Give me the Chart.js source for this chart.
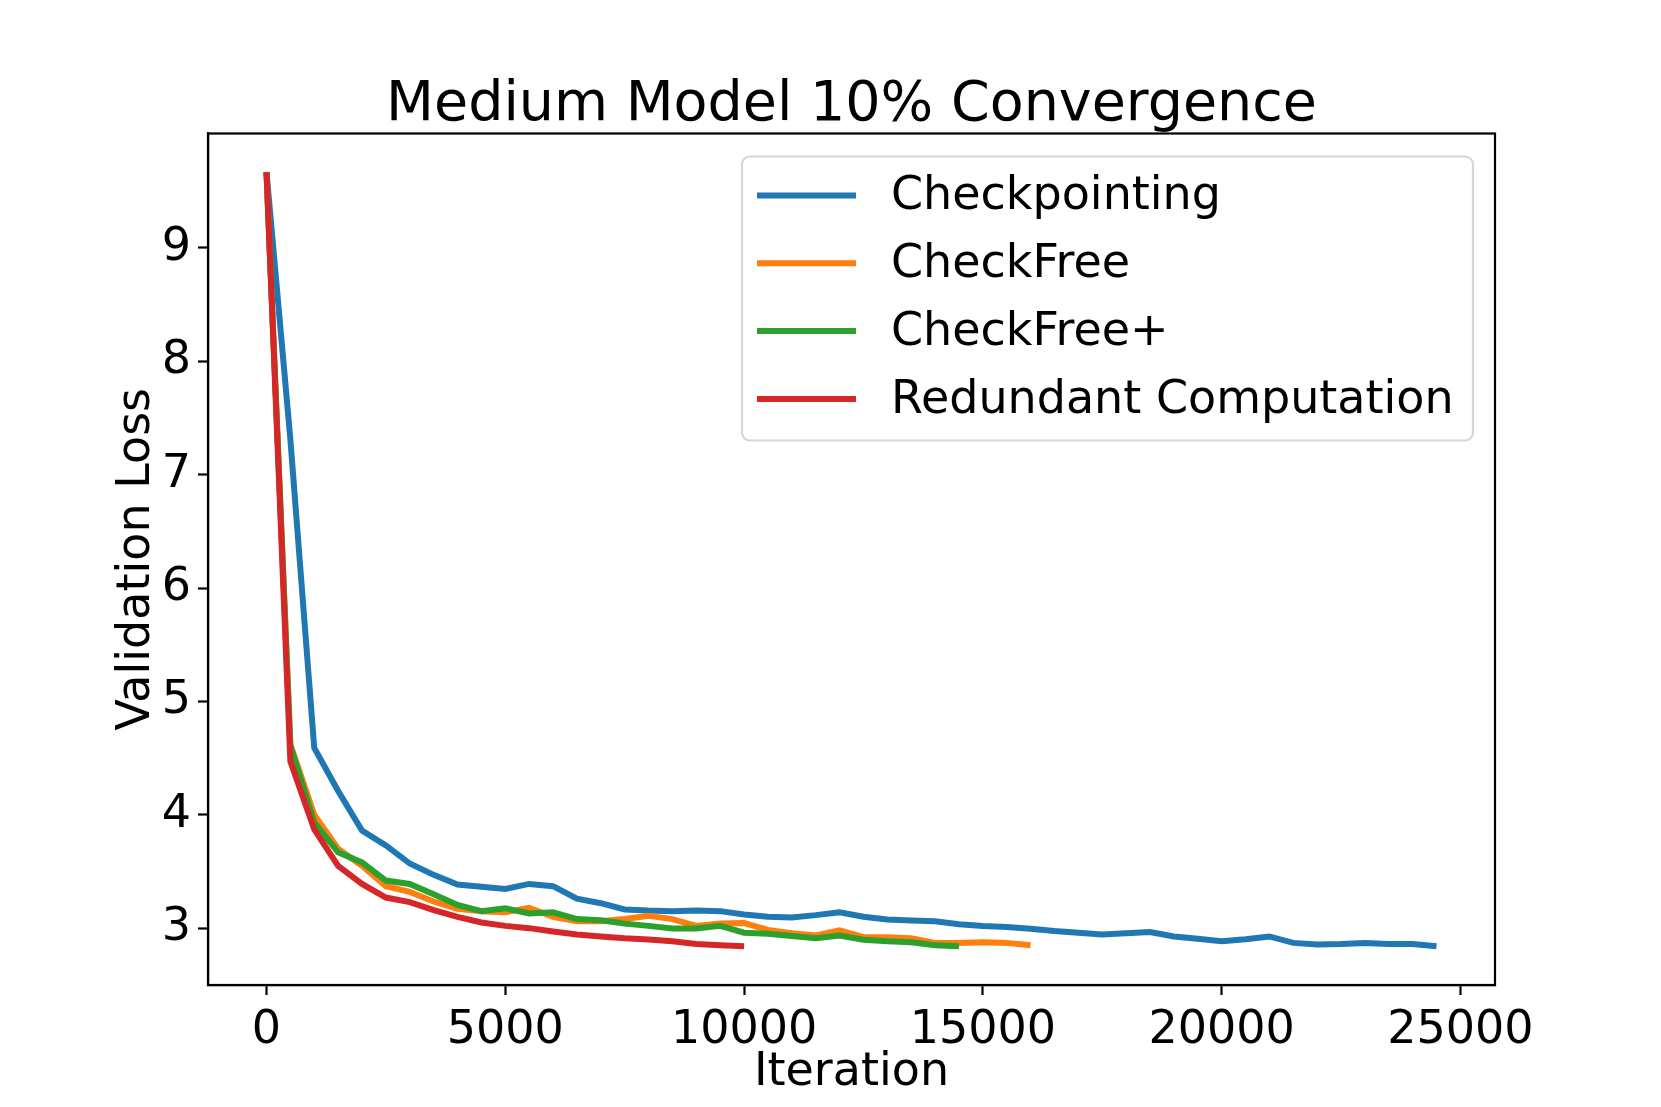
<!DOCTYPE html>
<html>
<head>
<meta charset="utf-8">
<title>Medium Model 10% Convergence</title>
<script src="https://cdn.jsdelivr.net/npm/chart.js@4.4.1/dist/chart.umd.min.js"></script>
<style>
    html, body { margin: 0; padding: 0; background: #ffffff; }
    #wrap { width: 1661px; height: 1107px; }
</style>
</head>
<body>
<div id="wrap"><canvas id="loss-chart" width="1661" height="1107"></canvas></div>
<script>
// Iterations at which the validation loss was measured
const iterations = [
    0, 500, 1000, 1500, 2000, 2500, 3000, 3500, 4000, 4500,
    5000, 5500, 6000, 6500, 7000, 7500, 8000, 8500, 9000, 9500,
    10000, 10500, 11000, 11500, 12000, 12500, 13000, 13500, 14000, 14500,
    15000, 15500, 16000, 16500, 17000, 17500, 18000, 18500, 19000, 19500,
    20000, 20500, 21000, 21500, 22000, 22500, 23000, 23500, 24000, 24500
];

const seriesNames = ['Checkpointing', 'CheckFree', 'CheckFree+', 'Redundant Computation'];
const seriesColors = ['#1f77b4', '#ff7f0e', '#2ca02c', '#d62728'];

const checkpointingLoss = [
    9.67, 7.31, 4.59, 4.21, 3.86, 3.73, 3.57, 3.47, 3.385, 3.365,
    3.345, 3.39, 3.37, 3.26, 3.22, 3.165, 3.155, 3.15, 3.155, 3.15,
    3.12, 3.10, 3.095, 3.115, 3.14, 3.10, 3.076, 3.068, 3.06, 3.035,
    3.02, 3.01, 2.995, 2.975, 2.96, 2.945, 2.955, 2.965, 2.927, 2.906,
    2.885, 2.903, 2.927, 2.87, 2.856, 2.86, 2.87, 2.86, 2.86, 2.84
];
const checkFreeLoss = [
    9.67, 4.62, 4.0, 3.70, 3.55, 3.37, 3.32, 3.235, 3.17, 3.15,
    3.14, 3.18, 3.10, 3.06, 3.06, 3.08, 3.11, 3.08, 3.02, 3.04,
    3.045, 2.985, 2.955, 2.935, 2.98, 2.92, 2.92, 2.91, 2.87, 2.87,
    2.875, 2.87, 2.85
];
const checkFreePlusLoss = [
    9.67, 4.61, 3.93, 3.67, 3.58, 3.42, 3.39, 3.30, 3.205, 3.15,
    3.176, 3.13, 3.14, 3.08, 3.07, 3.04, 3.02, 2.997, 2.997, 3.02,
    2.96, 2.95, 2.93, 2.91, 2.935, 2.897, 2.885, 2.875, 2.85, 2.84
];
const redundantLoss = [
    9.67, 4.47, 3.87, 3.55, 3.39, 3.27, 3.23, 3.16, 3.10, 3.05,
    3.02, 3.0, 2.97, 2.944, 2.926, 2.91, 2.90, 2.885, 2.86, 2.85,
    2.84
];

const xTicks = [0, 5000, 10000, 15000, 20000, 25000];
const yTicks = [3, 4, 5, 6, 7, 8, 9];

const FONT = "'DejaVu Sans', sans-serif";
const TEXT_SIZE = 46;

// Pair each loss value with its iteration
function toPoints(values) {
    return values.map((v, i) => ({ x: iterations[i], y: v }));
}

// Box around the whole plot area (matplotlib spines)
const framePlugin = {
    id: 'frame',
    afterDatasetsDraw(chart) {
        const a = chart.chartArea;
        const ctx = chart.ctx;
        ctx.save();
        ctx.strokeStyle = '#000000';
        ctx.lineWidth = 2.2;
        ctx.strokeRect(a.left, a.top, a.right - a.left, a.bottom - a.top);
        ctx.restore();
    }
};

// Legend box in the upper right corner
const legendBoxPlugin = {
    id: 'legendBox',
    afterDraw(chart) {
        const ctx = chart.ctx;
        const a = chart.chartArea;
        const boxRight = a.right - 22;
        const boxLeft = boxRight - 731;
        const boxTop = a.top + 23;
        const boxHeight = 284;

        ctx.save();
        ctx.beginPath();
        ctx.roundRect(boxLeft, boxTop, boxRight - boxLeft, boxHeight, 8);
        ctx.fillStyle = 'rgba(255,255,255,0.8)';
        ctx.fill();
        ctx.strokeStyle = '#d6d6d6';
        ctx.lineWidth = 2.2;
        ctx.stroke();

        ctx.font = TEXT_SIZE + 'px ' + FONT;
        ctx.textBaseline = 'middle';
        ctx.textAlign = 'left';
        chart.data.datasets.forEach((ds, i) => {
            const y = boxTop + 39 + i * 67.8;
            ctx.beginPath();
            ctx.moveTo(boxLeft + 15, y);
            ctx.lineTo(boxLeft + 114, y);
            ctx.strokeStyle = ds.borderColor;
            ctx.lineWidth = 6;
            ctx.stroke();
            ctx.fillStyle = '#000000';
            ctx.fillText(ds.label, boxLeft + 149, y + 2);
        });
        ctx.restore();
    }
};

function renderChart() {
    const lossSeries = [checkpointingLoss, checkFreeLoss, checkFreePlusLoss, redundantLoss];

    const datasets = lossSeries.map((values, i) => ({
        label: seriesNames[i],
        data: toPoints(values),
        borderColor: seriesColors[i],
        backgroundColor: seriesColors[i],
        borderWidth: 6,
        pointRadius: 0,
        tension: 0,
        fill: false,
        order: lossSeries.length - i // later series drawn on top
    }));

    const ctx = document.getElementById('loss-chart').getContext('2d');

    new Chart(ctx, {
        type: 'line',
        data: { datasets: datasets },
        options: {
            responsive: false,
            animation: false,
            devicePixelRatio: 1,
            layout: {
                padding: { left: 0, right: 166, top: 0, bottom: 0 }
            },
            plugins: {
                legend: { display: false },
                tooltip: { enabled: false },
                title: {
                    display: true,
                    text: 'Medium Model 10% Convergence',
                    fullSize: false,
                    color: '#000000',
                    font: { family: FONT, size: 55.5, weight: 'normal', lineHeight: 1.0 },
                    padding: { top: 78, bottom: 0 }
                }
            },
            scales: {
                x: {
                    type: 'linear',
                    min: -1225,
                    max: 25725,
                    afterBuildTicks: scale => { scale.ticks = xTicks.map(v => ({ value: v })); },
                    afterFit: scale => { scale.height = 122; },
                    ticks: {
                        color: '#000000',
                        padding: 8,
                        maxRotation: 0,
                        font: { family: FONT, size: TEXT_SIZE },
                        callback: value => String(value)
                    },
                    grid: {
                        drawOnChartArea: false,
                        drawTicks: true,
                        tickLength: 10,
                        tickWidth: 2.2,
                        tickColor: '#000000'
                    },
                    border: { display: true, color: '#000000', width: 2.2 },
                    title: {
                        display: true,
                        text: 'Iteration',
                        color: '#000000',
                        font: { family: FONT, size: TEXT_SIZE, lineHeight: 1.2 },
                        padding: { top: 0, bottom: 6 }
                    }
                },
                y: {
                    type: 'linear',
                    min: 2.4985,
                    max: 10.01,
                    afterBuildTicks: scale => { scale.ticks = yTicks.map(v => ({ value: v })); },
                    afterFit: scale => { scale.width = 208; },
                    ticks: {
                        color: '#000000',
                        padding: 7,
                        font: { family: FONT, size: TEXT_SIZE },
                        callback: value => String(value)
                    },
                    grid: {
                        drawOnChartArea: false,
                        drawTicks: true,
                        tickLength: 10,
                        tickWidth: 2.2,
                        tickColor: '#000000'
                    },
                    border: { display: true, color: '#000000', width: 2.2 },
                    title: {
                        display: true,
                        text: 'Validation Loss',
                        color: '#000000',
                        font: { family: FONT, size: TEXT_SIZE, lineHeight: 1.2 },
                        padding: { top: 109, bottom: 0 }
                    }
                }
            }
        },
        plugins: [framePlugin, legendBoxPlugin]
    });
}

document.addEventListener('DOMContentLoaded', renderChart);
</script>
</body>
</html>
